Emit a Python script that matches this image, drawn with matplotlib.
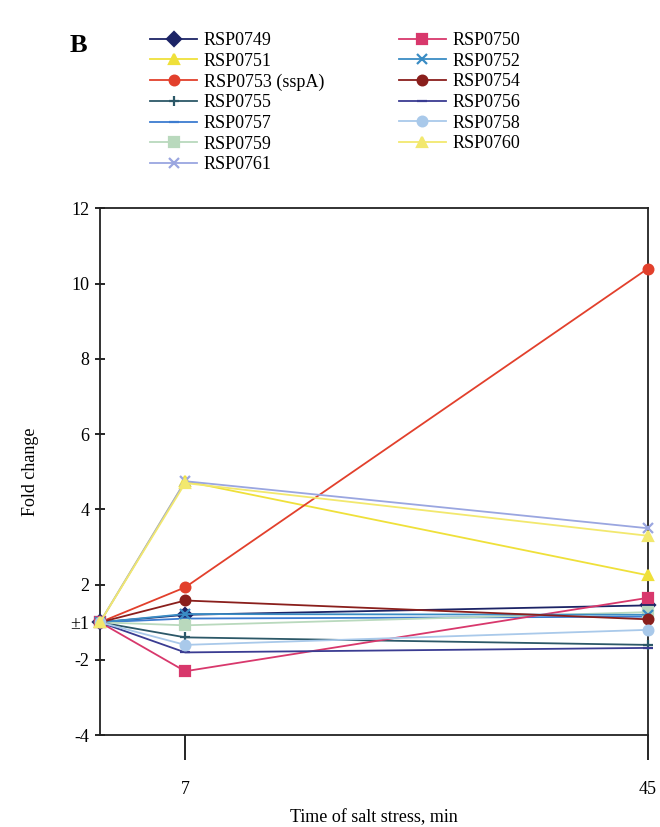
import matplotlib
matplotlib.use("Agg")
import matplotlib.pyplot as plt
import numpy as np

plt.rcParams['font.family'] = ['Liberation Serif', 'DejaVu Serif']

times = [0, 7, 45]
genes = ["RSP0749", "RSP0751", "RSP0753 (sspA)", "RSP0755", "RSP0757", "RSP0759", "RSP0761",
         "RSP0750", "RSP0752", "RSP0754", "RSP0756", "RSP0758", "RSP0760"]
# fold change values (1 means ±1)
fold = {
    "RSP0749": [1, 1.2, 1.45],
    "RSP0751": [1, 4.75, 2.25],
    "RSP0753 (sspA)": [1, 1.93, 10.4],
    "RSP0755": [1, -1.4, -1.6],
    "RSP0757": [1, 1.1, 1.15],
    "RSP0759": [1, -1.08, 1.27],
    "RSP0761": [1, 4.75, 3.5],
    "RSP0750": [1, -2.3, 1.65],
    "RSP0752": [1, 1.22, 1.2],
    "RSP0754": [1, 1.58, 1.08],
    "RSP0756": [1, -1.8, -1.68],
    "RSP0758": [1, -1.6, -1.2],
    "RSP0760": [1, 4.7, 3.3],
}
colors = {
    "RSP0749": "#1c2466", "RSP0751": "#efe03a", "RSP0753 (sspA)": "#e2402c",
    "RSP0755": "#2c5868", "RSP0757": "#3d7cd0", "RSP0759": "#b9d9bd",
    "RSP0761": "#9aa6e0", "RSP0750": "#d8386c", "RSP0752": "#3a8cc4",
    "RSP0754": "#8a1f1c", "RSP0756": "#3a3c92", "RSP0758": "#a9c9ea",
    "RSP0760": "#f2e86e",
}
markers = {
    "RSP0749": "D", "RSP0751": "^", "RSP0753 (sspA)": "o", "RSP0755": "+",
    "RSP0757": "_", "RSP0759": "s", "RSP0761": "x", "RSP0750": "s",
    "RSP0752": "x", "RSP0754": "o", "RSP0756": "_", "RSP0758": "o",
    "RSP0760": "^",
}
ytick_vals = [-4, -2, 1, 2, 4, 6, 8, 10, 12]
ytick_labels = ["-4", "-2", "\u00b11", "2", "4", "6", "8", "10", "12"]
xtick_vals = [7, 45]


def tr(f):
    f = np.asarray(f, dtype=float)
    return np.where(f >= 1, f - 1, f + 1)


fig = plt.figure(figsize=(6.6, 8.27), dpi=100)
ax = fig.add_axes([0.1515, 0.111, 0.830, 0.637])

for g in genes:
    ax.plot(times, tr(fold[g]), color=colors[g], marker=markers[g], lw=1.3,
            ms=7, mew=1.6, label=g, clip_on=False, zorder=3)

ax.set_xlim(0, 45)
ax.set_ylim(tr(-4), tr(12))
ax.set_xticks(xtick_vals)
ax.set_xticklabels([str(v) for v in xtick_vals], fontsize=13)
ax.set_yticks(tr(ytick_vals))
ax.set_yticklabels(ytick_labels, fontsize=13)
ax.tick_params(axis='x', direction='out', length=18, width=1.2, pad=15)
ax.tick_params(axis='y', direction='inout', length=7, width=1.2, pad=4)
for s in ax.spines.values():
    s.set_linewidth(1.3)
    s.set_color("#222222")

ax.set_ylabel("Fold change", fontsize=13, labelpad=23)
ax.set_xlabel("Time of salt stress, min", fontsize=13, labelpad=8)

fig.text(0.105, 0.945, "B", fontsize=19, fontweight='bold', ha='left', va='center')

leg = fig.legend(loc='upper left', bbox_to_anchor=(0.214, 0.972), ncol=2,
                 fontsize=13, frameon=False, handlelength=2.6,
                 handletextpad=0.35, columnspacing=4.15, labelspacing=0.2,
                 borderpad=0.0)

fig.savefig("out.png", dpi=100, facecolor='white')
